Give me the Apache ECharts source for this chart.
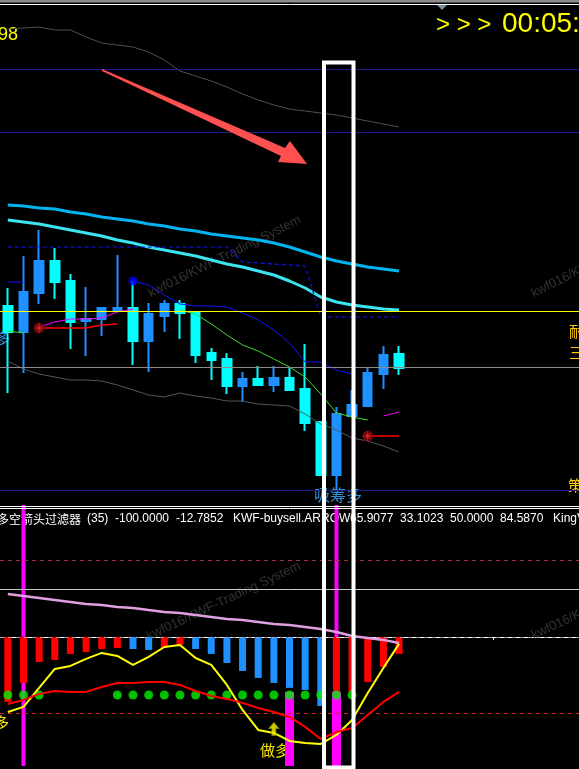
<!DOCTYPE html>
<html>
<head>
<meta charset="utf-8">
<script src="https://cdn.jsdelivr.net/npm/echarts@6/dist/echarts.min.js"></script>
<style>
  html, body { margin: 0; padding: 0; background: #000; }
  #chart { width: 579px; height: 769px; }
</style>
</head>
<body>
<div id="chart"></div>
<script>
// 时间轴（小时K线）
const categories = [
  '13 09:00', '13 10:00', '13 11:00', '13 12:00', '13 13:00', '13 14:00', '13 15:00', '13 16:00',
  '13 17:00', '13 18:00', '13 19:00', '13 20:00', '13 21:00', '13 22:00', '13 23:00', '14 00:00',
  '14 01:00', '14 02:00', '14 03:00', '14 04:00', '14 05:00', '14 06:00', '14 07:00', '14 08:00',
  '14 09:00', '14 10:00', '14 11:00', '14 12:00', '14 13:00', '14 14:00', '14 15:00', '14 16:00',
  '14 17:00', '14 18:00', '14 19:00', '14 20:00', '14 21:00'
]

// K线 [open, close, low, high]
const candles = [
  [1.0994, 1.0968, 1.0907, 1.1012],
  [1.0968, 1.1008, 1.0927, 1.1044],
  [1.1007, 1.1039, 1.0996, 1.1070],
  [1.1039, 1.1018, 1.1001, 1.1052],
  [1.1019, 1.0978, 1.0951, 1.1026],
  [1.0979, 1.0981, 1.0944, 1.1013],
  [1.0981, 1.0992, 1.0964, 1.0993],
  [1.0990, 1.0992, 1.0990, 1.1045],
  [1.0992, 1.0959, 1.0935, 1.1019],
  [1.0959, 1.0986, 1.0928, 1.0997],
  [1.0984, 1.0996, 1.0968, 1.1000],
  [1.0996, 1.0987, 1.0961, 1.1000],
  [1.0988, 1.0945, 1.0937, 1.0988],
  [1.0947, 1.0940, 1.0920, 1.0952],
  [1.0941, 1.0914, 1.0906, 1.0947],
  [1.0914, 1.0921, 1.0898, 1.0928],
  [1.0921, 1.0915, 1.0914, 1.0934],
  [1.0915, 1.0922, 1.0908, 1.0934],
  [1.0922, 1.0910, 1.0909, 1.0932],
  [1.0911, 1.0877, 1.0869, 1.0956],
  [1.0878, 1.0825, 1.0825, 1.0878],
  [1.0825, 1.0886, 1.0810, 1.0893],
  [1.0884, 1.0895, 1.0884, 1.0910],
  [1.0894, 1.0927, 1.0894, 1.0933],
  [1.0926, 1.0945, 1.0911, 1.0954],
  [1.0946, 1.0932, 1.0925, 1.0954]
]

const upperBand = [1.1271, 1.1272, 1.1273, 1.1270, 1.1270, 1.1263, 1.1257, 1.1255, 1.1253, 1.1248, 1.1240, 1.1229, 1.1224,
  1.1219, 1.1213, 1.1206, 1.1200, 1.1195, 1.1191, 1.1189, 1.1187, 1.1185, 1.1182, 1.1179, 1.1176, 1.1173]
const lowerBand = [1.0939, 1.0931, 1.0926, 1.0923, 1.0920, 1.0920, 1.0919, 1.0915, 1.0910, 1.0905, 1.0903, 1.0907, 1.0904,
  1.0902, 1.0899, 1.0899, 1.0896, 1.0895, 1.0894, 1.0886, 1.0876, 1.0870, 1.0862, 1.0859, 1.0854, 1.0848]
const maFast = [1.1095, 1.1094, 1.1092, 1.1091, 1.1088, 1.1086, 1.1083, 1.1081, 1.1079, 1.1076, 1.1074, 1.1071, 1.1069,
  1.1066, 1.1064, 1.1062, 1.1060, 1.1057, 1.1053, 1.1048, 1.1043, 1.1039, 1.1036, 1.1033, 1.1031, 1.1029]
const maSlow = [1.1080, 1.1078, 1.1076, 1.1073, 1.1070, 1.1067, 1.1064, 1.1060, 1.1057, 1.1053, 1.1050, 1.1047, 1.1044,
  1.1040, 1.1036, 1.1033, 1.1029, 1.1025, 1.1019, 1.1012, 1.1003, 1.0998, 1.0995, 1.0993, 1.0991, 1.0990]
const stepLine = [1.1053, 1.1053, 1.1053, 1.1053, 1.1053, 1.1053, 1.1053, 1.1053, 1.1053, 1.1053, 1.1053, 1.1053, 1.1053,
  1.1053, 1.1053, 1.1038, 1.1037, 1.1036, 1.1035, 1.1034, 1.0983, 1.0983, 1.0983, 1.0983, 1.0983, 1.0983]
const blueLine = [1.1018, 1.1018, null, null, null, null, null, null, 1.1019, 1.1015, 1.1005, 1.0996, 1.0994,
  1.0994, 1.0993, 1.0987, 1.0980, 1.0970, 1.0957, 1.0938, 1.0938, 1.0930, 1.0926]
const greenLine = [1.0969, 1.0967, null, null, null, null, null, null, null, null, null, 1.0990, 1.0986,
  1.0976, 1.0965, 1.0955, 1.0949, 1.0941, 1.0933, 1.0923, 1.0906, 1.0887, 1.0883, 1.0880]
const magentaLine = [null, null, 1.0973, 1.0978, 1.0981, 1.0981, 1.0982, 1.0988, 1.0991, null, null, null, null,
  null, null, null, null, null, null, null, null, null, null, null, 1.0884, 1.0888]
const redLine = [null, null, 1.0972, 1.0972, 1.0972, 1.0972, 1.0975, 1.0976, null, null, null, null, null,
  null, null, null, null, null, null, null, null, null, null, 1.0864, 1.0864, 1.0864]
const navyLevels = [1.1231, 1.1168, 1.0810]
const yellowLevel = [1.0989]
const greyLevel = [1.0933]
const starMarks = [[2, 1.0972], [23, 1.0864]]
const bigDot = [[8, 1.1019]]

// 副图：多空箭头过滤器
const histVals = [-68.0, -48.1, -26.2, -24.1, -17.8, -15.7, -12.6, -11.5, -12.6, -13.6, -11.5, -8.4, -12.6,
  -17.8, -27.2, -35.6, -42.9, -48.1, -53.3, -55.4, -72.2, -60.7, -57.5, -47.1, -31.4, -17.8]
const histSide = ['r', 'r', 'r', 'r', 'r', 'r', 'r', 'r', 'b', 'b', 'r', 'r', 'b',
  'b', 'b', 'b', 'b', 'b', 'b', 'b', 'b', 'r', 'r', 'r', 'r', 'r']
const pinkLine = [45.0, 42.9, 40.8, 38.7, 36.6, 34.5, 33.5, 31.4, 30.3, 28.2, 26.2, 25.1, 23.0,
  20.9, 18.8, 17.8, 15.7, 13.6, 12.6, 10.5, 8.4, 5.2, 1.0, -1.0, -3.1, -6.3]
const yellowOsc = [-78.5, -73.2, -53.3, -33.5, -30.3, -23.0, -16.7, -19.9, -29.3, -20.9, -10.5, -8.4, -22.0,
  -29.3, -50.2, -76.4, -97.3, -100.4, -108.8, -110.9, -111.9, -102.5, -86.8, -58.6, -32.4, -7.3]
const redOsc = [-70.1, -65.9, -59.6, -56.5, -57.5, -57.5, -52.3, -48.1, -48.1, -47.1, -47.1, -50.2, -56.5,
  -61.7, -64.9, -69.0, -74.3, -78.5, -83.7, -94.1, -106.7, -99.4, -95.2, -81.6, -68.0, -57.5]
const dotIdx = [0, 1, 2, 7, 8, 9, 10, 11, 12, 13, 14, 15, 16, 17, 18, 19, 20, 21, 22]
const dotLevel = -60.7
const signalLines = [[1, 138, -135], [21, 138, -135]]
const signalBlocks = [[18, -57.5, -135], [21, -57.5, -135]]
const buyArrow = [[17, -96.2]]
const oscLevels = { upper: 80, lower: -80, mid: 50, zero: 0 }

const chart = echarts.init(document.getElementById('chart'))

function rectRender(w) {
  return function (params, api) {
    const a = api.coord([api.value(0), api.value(1)])
    const b = api.coord([api.value(0), api.value(2)])
    return {
      type: 'rect',
      shape: { x: a[0] - w / 2, y: a[1], width: w, height: b[1] - a[1] },
      style: { fill: '#FF00FF' }
    }
  }
}

function hLine(value, color, type, width) {
  return { yAxis: value, lineStyle: { color: color, type: type, width: width || 1 } }
}

function txt(x, y, text, font, color, extra) {
  return Object.assign({
    type: 'text', x: x, y: y, z: 1,
    style: { text: text, font: font, fill: color, textVerticalAlign: 'middle' }
  }, extra || {})
}

const cjk = '"Noto Sans CJK SC", sans-serif'
const lat = '"Liberation Sans", Arial, sans-serif'

const thin = (name, data, color, width, extra) => Object.assign({
  name: name, type: 'line', xAxisIndex: 0, yAxisIndex: 0, data: data,
  symbol: 'none', silent: true, z: 3,
  lineStyle: { color: color, width: width }
}, extra || {})

const thinB = (name, data, color, width) => ({
  name: name, type: 'line', xAxisIndex: 1, yAxisIndex: 1, data: data,
  symbol: 'none', silent: true, z: 6,
  lineStyle: { color: color, width: width }
})

const option = {
  backgroundColor: '#000',
  animation: false,
  grid: [
    { left: -4, top: 0, width: 592, height: 500 },
    { left: -4, top: 505, width: 592, height: 261 }
  ],
  xAxis: [
    { type: 'category', gridIndex: 0, data: categories, boundaryGap: true, show: false },
    {
      type: 'category', gridIndex: 1, data: categories, boundaryGap: true,
      axisLine: { show: true, lineStyle: { color: '#fff', width: 1 } },
      axisTick: {
        show: true, alignWithLabel: true, length: 3,
        interval: (i) => i % 6 === 1,
        lineStyle: { color: '#fff' }
      },
      axisLabel: { show: false },
      splitLine: { show: false }
    }
  ],
  yAxis: [
    { type: 'value', gridIndex: 0, min: 1.08, max: 1.13, show: false, splitLine: { show: false } },
    { type: 'value', gridIndex: 1, min: -135, max: 138, show: false, splitLine: { show: false } }
  ],
  series: [
    {
      name: 'price', type: 'candlestick', xAxisIndex: 0, yAxisIndex: 0,
      data: candles, barWidth: 9, silent: true, z: 2,
      itemStyle: {
        color: '#1E90FF', color0: '#00FFFF',
        borderColor: '#1E90FF', borderColor0: '#00FFFF', borderWidth: 2
      }
    },
    thin('upper', upperBand, '#505050', 1, {
      markLine: {
        silent: true, symbol: 'none', label: { show: false }, precision: 4,
        data: navyLevels.map(v => hLine(v, '#1c1c8a', 'solid'))
          .concat(yellowLevel.map(v => hLine(v, '#FFFF00', 'solid')))
          .concat(greyLevel.map(v => hLine(v, '#8a8a8a', 'solid')))
      }
    }),
    thin('lower', lowerBand, '#555555', 1),
    thin('maFast', maFast, '#00B4F0', 3),
    thin('maSlow', maSlow, '#3CE4F0', 3),
    thin('step', stepLine, '#1010FF', 1.2, { lineStyle: { color: '#1010FF', width: 1.2, type: [4, 3] } }),
    thin('blue', blueLine, '#1414FF', 1),
    thin('green', greenLine, '#3CDC28', 1),
    thin('magenta', magentaLine, '#FF00FF', 1),
    thin('red', redLine, '#FF0000', 1.5),
    {
      name: 'starBg', type: 'scatter', xAxisIndex: 0, yAxisIndex: 0, data: starMarks,
      symbol: 'circle', symbolSize: 11, silent: true, z: 5,
      itemStyle: { color: '#6a0000' }
    },
    {
      name: 'star', type: 'scatter', xAxisIndex: 0, yAxisIndex: 0, data: starMarks,
      symbol: 'path://M5 0L5 10M0 5L10 5M1.5 1.5L8.5 8.5M8.5 1.5L1.5 8.5', symbolSize: 10, silent: true, z: 6,
      itemStyle: { color: 'transparent', borderColor: '#ff2a2a', borderWidth: 1 }
    },
    {
      name: 'dot', type: 'scatter', xAxisIndex: 0, yAxisIndex: 0, data: bigDot,
      symbol: 'circle', symbolSize: 9, silent: true, z: 6,
      itemStyle: { color: '#0000FF' }
    },

    // 副图
    {
      name: 'signalLine', type: 'custom', xAxisIndex: 1, yAxisIndex: 1, data: signalLines,
      renderItem: rectRender(4), silent: true, z: 1, encode: { x: 0, y: [1, 2] }
    },
    {
      name: 'hist', type: 'bar', xAxisIndex: 1, yAxisIndex: 1, barWidth: 7, silent: true, z: 2,
      data: histVals.map((v, i) => ({
        value: v, itemStyle: { color: histSide[i] === 'r' ? '#FF0000' : '#1E90FF' }
      })),
      markLine: {
        silent: true, symbol: 'none', label: { show: false }, precision: 2,
        data: [
          hLine(oscLevels.upper, '#A8303C', [4, 4]),
          hLine(oscLevels.mid, '#C8C8C8', 'solid'),
          hLine(oscLevels.zero, '#A8A8A8', [4, 4]),
          hLine(oscLevels.lower, '#D82020', [4, 4])
        ]
      }
    },
    {
      name: 'signalBlock', type: 'custom', xAxisIndex: 1, yAxisIndex: 1, data: signalBlocks,
      renderItem: rectRender(9), silent: true, z: 3, encode: { x: 0, y: [1, 2] }
    },
    {
      name: 'dots', type: 'scatter', xAxisIndex: 1, yAxisIndex: 1,
      data: dotIdx.map(i => [i, dotLevel]), symbol: 'circle', symbolSize: 9, silent: true, z: 4,
      itemStyle: { color: '#00F000' }
    },
    thinB('pink', pinkLine, '#E0A0E0', 2.5),
    thinB('yellowOsc', yellowOsc, '#FFFF00', 2),
    thinB('redOsc', redOsc, '#FF0000', 2),
    {
      name: 'buy', type: 'scatter', xAxisIndex: 1, yAxisIndex: 1, data: buyArrow,
      symbol: 'path://M5 0L10 6L7 6L7 13L3 13L3 6L0 6Z', symbolSize: [10, 13], silent: true, z: 7,
      itemStyle: { color: '#FFFF00', borderColor: '#8a8a00', borderWidth: 1 }
    }
  ],
  graphic: [
    // 水印
    { type: 'text', x: 152, y: 300, rotation: 0.46, z: 1, style: { text: 'kwf016/KWF-Trading System', font: '13px ' + lat, fill: '#333333', textVerticalAlign: 'bottom' } },
    { type: 'text', x: 535, y: 300, rotation: 0.46, z: 1, style: { text: 'kwf016/KWF-Trading System', font: '13px ' + lat, fill: '#333333', textVerticalAlign: 'bottom' } },
    { type: 'text', x: 150, y: 643, rotation: 0.44, z: 1, style: { text: 'kwf016/KWF-Trading System', font: '13px ' + lat, fill: '#333333', textVerticalAlign: 'bottom' } },
    { type: 'text', x: 535, y: 642, rotation: 0.44, z: 1, style: { text: 'kwf016/KWF-Trading System', font: '13px ' + lat, fill: '#333333', textVerticalAlign: 'bottom' } },

    // 顶部边框
    { type: 'rect', z: 50, shape: { x: 0, y: 0, width: 579, height: 2.5 }, style: { fill: '#8c8c8c' } },
    { type: 'line', z: 50, shape: { x1: 0, y1: 4.5, x2: 579, y2: 4.5 }, style: { stroke: '#ffffff', lineWidth: 1 } },
    { type: 'polygon', z: 51, shape: { points: [[437, 5], [447, 5], [442, 10]] }, style: { fill: '#7890a0' } },

    txt(18, 35, '98', '18px ' + lat, '#FFFF00', { style: { text: '98', font: '18px ' + lat, fill: '#FFFF00', textAlign: 'right', textVerticalAlign: 'middle' } }),
    txt(436, 25, '> > >', '24px ' + lat, '#FFFF00'),
    txt(502, 24, '00:05:31', '28px ' + lat, '#FFFF00'),
    txt(-5, 338, '多', '15px ' + cjk, '#2E8FD6'),
    txt(569, 331, '耐', '15px ' + cjk, '#FFCC00'),
    txt(569, 352, '三', '15px ' + cjk, '#FFCC00'),
    txt(568, 485, '策', '15px ' + cjk, '#FFCC00'),
    txt(314, 495, '吸筹多', '16px ' + cjk, '#2E8FD6'),

    // 分隔线
    { type: 'line', z: 50, shape: { x1: 0, y1: 506.5, x2: 579, y2: 506.5 }, style: { stroke: '#ffffff', lineWidth: 1 } },
    { type: 'line', z: 50, shape: { x1: 0, y1: 508.5, x2: 579, y2: 508.5 }, style: { stroke: '#ffffff', lineWidth: 1 } },

    // 副图标题
    txt(-3, 519, '多空箭头过滤器', '12px ' + cjk, '#ffffff'),
    txt(87, 519, '(35)', '12px ' + lat, '#ffffff'),
    txt(115, 519, '-100.0000', '12px ' + lat, '#ffffff'),
    txt(176, 519, '-12.7852', '12px ' + lat, '#ffffff'),
    txt(233, 519, 'KWF-buysell.ARROW', '12px ' + lat, '#ffffff'),
    txt(350, 519, '65.9077', '12px ' + lat, '#ffffff'),
    txt(400, 519, '33.1023', '12px ' + lat, '#ffffff'),
    txt(450, 519, '50.0000', '12px ' + lat, '#ffffff'),
    txt(500, 519, '84.5870', '12px ' + lat, '#ffffff'),
    txt(553, 519, 'KingVol', '12px ' + lat, '#ffffff'),

    txt(260, 750, '做多', '15px ' + cjk, '#F5E400'),
    txt(-6, 722, '多', '15px ' + cjk, '#F5E400'),

    // 标注：红色箭头与白框
    {
      type: 'polygon', z: 90,
      shape: { points: [[102, 69], [285, 148], [290, 141], [307, 164], [278, 162], [281, 156], [102, 71]] },
      style: { fill: '#FF5050' }
    },
    {
      type: 'rect', z: 100,
      shape: { x: 324, y: 62.5, width: 29.5, height: 705 },
      style: { fill: 'none', stroke: '#ffffff', lineWidth: 4 }
    }
  ]
}

chart.setOption(option)
</script>
</body>
</html>
